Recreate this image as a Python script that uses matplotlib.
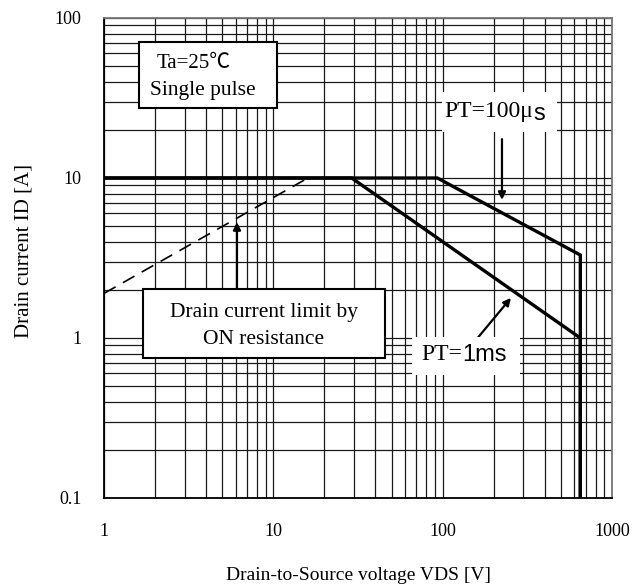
import matplotlib
matplotlib.use("Agg")
import matplotlib.pyplot as plt
from matplotlib.patches import Rectangle
from matplotlib.ticker import LogLocator, NullFormatter, FixedLocator, FixedFormatter

# ---- data ----
x_ticks = [1, 10, 100, 1000]
x_tick_labels = ["1", "10", "100", "1000"]
y_ticks = [0.1, 1, 10, 100]
y_tick_labels = ["0.1", "1", "10", "100"]

# ON-resistance limit (dashed)
ron_v = [1, 16]
ron_i = [1.9, 10]
# PT = 100 us
pt100_v = [1, 93, 650, 650]
pt100_i = [10, 10, 3.3, 0.1]
# PT = 1 ms
pt1m_v = [1, 29, 650, 650]
pt1m_i = [10, 10, 1.0, 0.1]

# arrows (tail -> head, data coordinates)
arrow_ron = ((6.1, 2.02), (6.1, 5.3))
arrow_100 = ((224, 17.5), (224, 7.3))
arrow_1m = ((162, 1.01), (253, 1.78))

W, H = 632, 586
fig = plt.figure(figsize=(W / 100, H / 100), dpi=100)
ax = fig.add_axes([104 / W, 1 - 498 / H, 508 / W, 480 / H])
ax.set_xscale("log")
ax.set_yscale("log")
ax.set_xlim(1, 1000)
ax.set_ylim(0.1, 100)

serif = ["Liberation Serif", "DejaVu Serif"]

ax.xaxis.set_major_locator(FixedLocator(x_ticks))
ax.xaxis.set_major_formatter(FixedFormatter(x_tick_labels))
ax.yaxis.set_major_locator(FixedLocator(y_ticks))
ax.yaxis.set_major_formatter(FixedFormatter(y_tick_labels))
ax.xaxis.set_minor_locator(LogLocator(base=10, subs=range(2, 10)))
ax.yaxis.set_minor_locator(LogLocator(base=10, subs=range(2, 10)))
ax.xaxis.set_minor_formatter(NullFormatter())
ax.yaxis.set_minor_formatter(NullFormatter())
ax.tick_params(which="both", length=0)
ax.tick_params(axis="y", pad=16)
ax.tick_params(axis="x", pad=18)
for lab in ax.get_xticklabels() + ax.get_yticklabels():
    lab.set_fontfamily(serif)
    lab.set_fontsize(13)

ax.grid(which="both", color="#1a1a1a", linewidth=0.9)
ax.set_axisbelow(True)
for s in ["left", "bottom"]:
    ax.spines[s].set_color("black")
    ax.spines[s].set_linewidth(1.3)
for s in ["top", "right"]:
    ax.spines[s].set_color("#777777")
    ax.spines[s].set_linewidth(1.3)

ax.plot(ron_v, ron_i, color="black", linewidth=1.2, linestyle=(0, (8, 5)), zorder=3)
ax.plot(pt100_v, pt100_i, color="black", linewidth=2.4, zorder=4, solid_joinstyle="miter")
ax.plot(pt1m_v, pt1m_i, color="black", linewidth=2.4, zorder=4, solid_joinstyle="miter")

ax.set_xlabel("Drain-to-Source voltage VDS [V]", fontfamily=serif, fontsize=14)
ax.xaxis.set_label_coords(0.5, -0.143)
ax.set_ylabel("Drain current ID [A]", fontfamily=serif, fontsize=15)
ax.yaxis.set_label_coords(-0.138, 0.515)

def px(x, y):
    return x / W, 1 - y / H

# box: Ta=25C / Single pulse
fig.patches.append(Rectangle(px(139, 108), (277 - 139) / W, (108 - 42) / H,
                             transform=fig.transFigure, facecolor="white",
                             edgecolor="black", linewidth=1.5, zorder=5))
fig.text(*px(157, 63), "Ta=25℃", fontfamily=["Liberation Serif", "Noto Sans CJK JP"],
         fontsize=15, ha="left", va="center", zorder=6)
fig.text(*px(150, 91), "Single pulse", fontfamily=serif, fontsize=15.5,
         ha="left", va="center", zorder=6)

# box: Drain current limit by ON resistance
fig.patches.append(Rectangle(px(143, 358), (385 - 143) / W, (358 - 289) / H,
                             transform=fig.transFigure, facecolor="white",
                             edgecolor="black", linewidth=1.5, zorder=5))
fig.text(*px(264, 312), "Drain current limit by", fontfamily=serif, fontsize=15.5,
         ha="center", va="center", zorder=6)
fig.text(*px(264, 339), "ON resistance", fontfamily=serif, fontsize=15.5,
         ha="center", va="center", zorder=6)

# PT = 100us label
fig.patches.append(Rectangle(px(442, 132), (557 - 442) / W, (132 - 92) / H,
                             transform=fig.transFigure, facecolor="white",
                             edgecolor="none", zorder=5))
fig.text(*px(533, 112), "PT=100μ", fontfamily=serif, fontsize=17,
         ha="right", va="center", zorder=6)
fig.text(*px(533, 114), "s", fontfamily=["Liberation Sans"], fontsize=17,
         ha="left", va="center", zorder=6)

# PT = 1ms label
fig.patches.append(Rectangle(px(412, 375), (520 - 412) / W, (375 - 337) / H,
                             transform=fig.transFigure, facecolor="white",
                             edgecolor="none", zorder=5))
fig.text(*px(462, 355), "PT=", fontfamily=serif, fontsize=17,
         ha="right", va="center", zorder=6)
fig.text(*px(462, 355), "1ms", fontfamily=["Liberation Sans"], fontsize=17,
         ha="left", va="center", zorder=6)

for (t, h) in (arrow_ron, arrow_100, arrow_1m):
    ax.annotate("", xy=h, xytext=t,
                arrowprops=dict(arrowstyle="-|>", color="black", lw=1.6,
                                mutation_scale=11, shrinkA=0, shrinkB=0),
                zorder=7)

fig.savefig("out.png", dpi=100)
